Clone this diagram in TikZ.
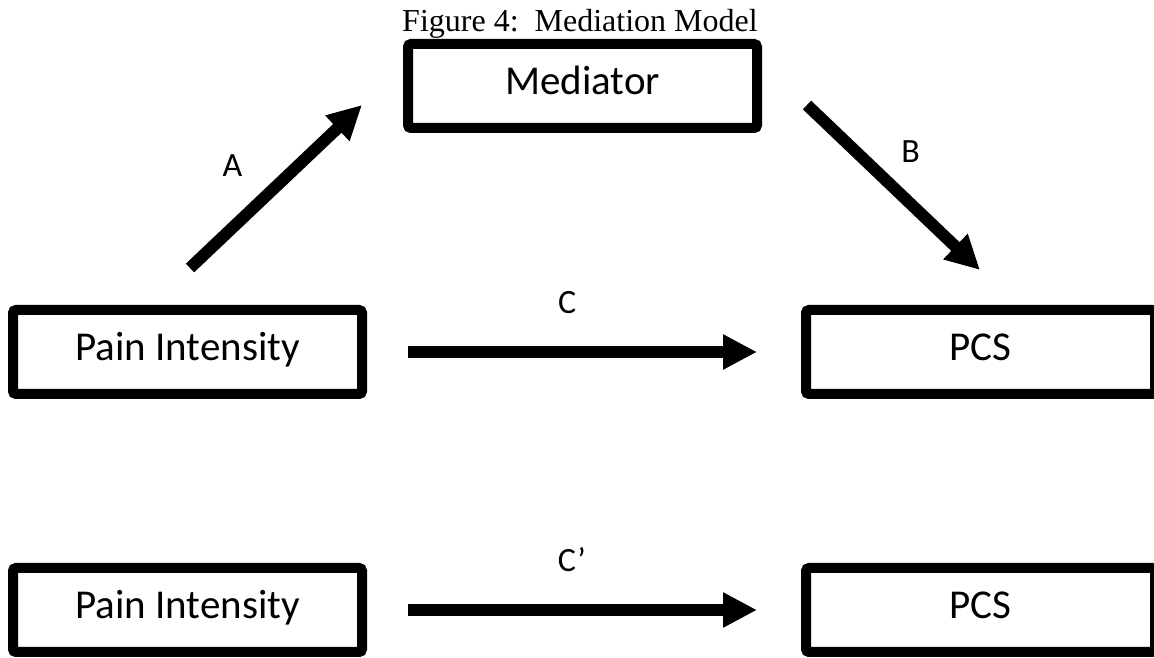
\documentclass[tikz,border=0pt]{standalone}
\usepackage{fontspec}
\setmainfont{Carlito}
\newfontfamily\titlefont{Liberation Serif}
\usetikzlibrary{positioning}
\usetikzlibrary{quotes}
\usetikzlibrary{arrows.meta}

\begin{document}
\begin{tikzpicture}
		[x=1pt, y=1pt,
		box/.style={draw=black, line width=10pt, rounded corners=3pt, minimum width=349pt, minimum height=84pt, font=\fontsize{41}{49}\selectfont, text height=27pt, text depth=10pt},
		arr/.style={line width=12pt, -{Triangle[length=34pt, width=33pt]}},
		gap/.style={shorten <=41pt, shorten >=44pt},
		every edge quotes/.style={font=\fontsize{34}{41}\selectfont, inner sep=0pt}]
		\useasboundingbox (0,0) rectangle (1154,658);
		\node[box] (pain) at (187.5,306) {Pain Intensity};
		\node[box, right=434pt of pain] (pcs) {PCS};
		\node[box] (med) at (582.5,572) {Mediator};
		\node[box, below=164pt of pain] (pain2) {Pain Intensity};
		\node[box, below=164pt of pcs] (pcs2) {PCS};
		\node[font=\titlefont\fontsize{32}{38}\selectfont, anchor=base] (title) at (580,626) {Figure 4:\ \ Mediation Model};
		\draw[arr] ([shift={(2.5pt,37pt)}]pain.north) to["A" {above left=22pt, pos=.43}] ([shift={(-41pt,-19pt)}]med.west);
		\draw[arr] ([shift={(45pt,-19pt)}]med.east) to["B" {above right=15pt, pos=.45}] ([shift={(-0.5pt,35pt)}]pcs.north);
		\draw[arr, gap] (pain) to["C" {above=32pt, pos=.461}] (pcs);
		\draw[arr, gap] (pain2) to["C’" {above=32pt, pos=.472}] (pcs2);
	\end{tikzpicture}
\end{document}
